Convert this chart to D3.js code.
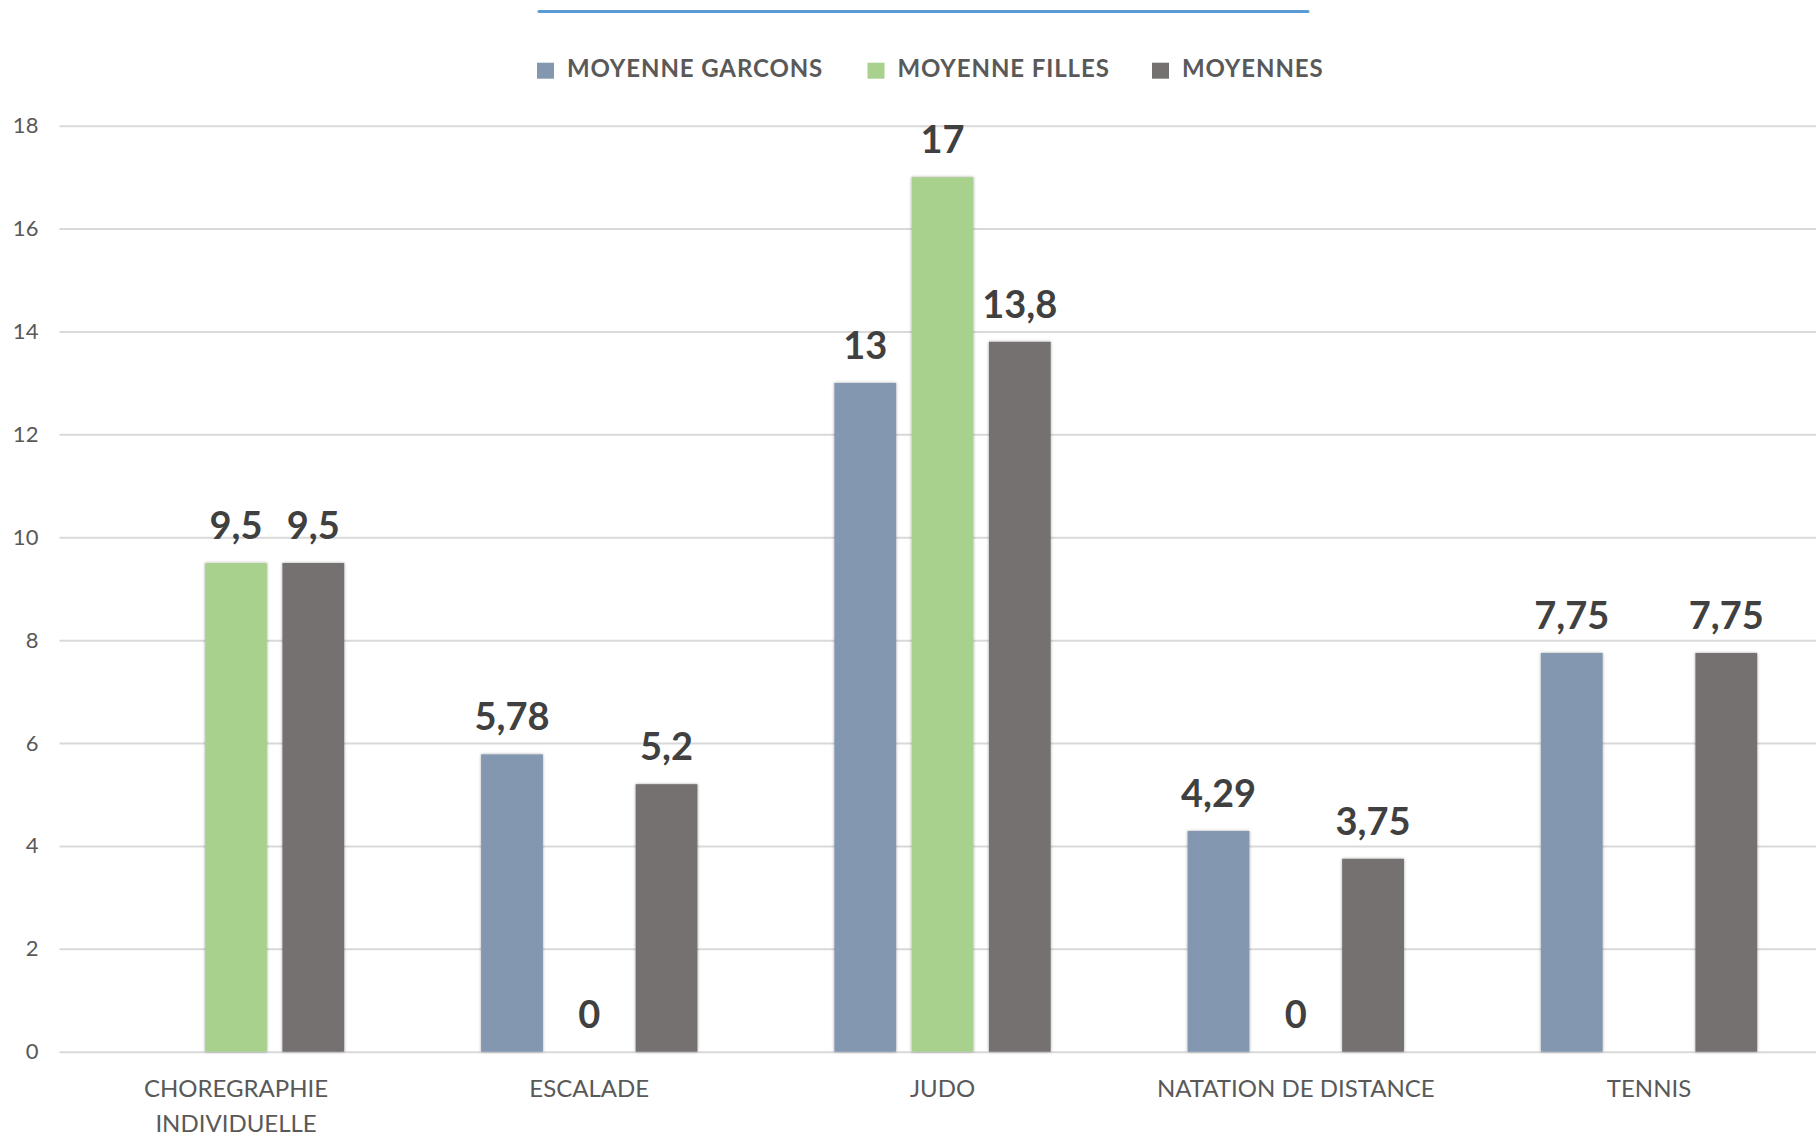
<!DOCTYPE html>
<html>
<head>
<meta charset="utf-8">
<script src="https://cdn.jsdelivr.net/npm/d3@7"></script>
<style>
	html, body { margin: 0; padding: 0; background: #fff; }
	svg { display: block; font-family: Lato, "Open Sans", sans-serif; }
</style>
</head>
<body>
<svg id="chart" width="1816" height="1136"></svg>
<script>
const categories = [
	["CHOREGRAPHIE", "INDIVIDUELLE"],
	["ESCALADE"],
	["JUDO"],
	["NATATION DE DISTANCE"],
	["TENNIS"],
];
const seriesNames = ["MOYENNE GARCONS", "MOYENNE FILLES", "MOYENNES"];
const garcons = [null, 5.78, 13, 4.29, 7.75];
const filles = [9.5, 0, 17, 0, null];
const moyennes = [9.5, 5.2, 13.8, 3.75, 7.75];
const yTicks = [0, 2, 4, 6, 8, 10, 12, 14, 16, 18];

const colors = ["#8497B0", "#A9D18E", "#767171"];
const seriesValues = [garcons, filles, moyennes];

const width = 1816,
	height = 1136;

const svg = d3.select("#chart");

const defs = svg.append("defs");
defs.append("filter")
	.attr("id", "shadow")
	.attr("x", "-20%").attr("y", "-5%")
	.attr("width", "140%").attr("height", "110%")
	.append("feDropShadow")
	.attr("dx", 0).attr("dy", 0)
	.attr("stdDeviation", 1.6)
	.attr("flood-color", "#000")
	.attr("flood-opacity", 0.35);

// scales
const x0 = d3.scaleBand()
	.domain(d3.range(categories.length))
	.range([59.4, 59.4 + 5 * 353.25])
	.paddingInner(0.3)
	.paddingOuter(0.15);

const x1 = d3.scaleBand()
	.domain(d3.range(seriesNames.length))
	.range([0, x0.bandwidth()])
	.padding(0.2);

const y = d3.scaleLinear().domain([0, 18]).range([1051.7, 125.7]);

// title underline (empty title)
svg.append("line")
	.attr("x1", 539).attr("x2", 1308)
	.attr("y1", 11.5).attr("y2", 11.5)
	.attr("stroke", "#5B9BD5")
	.attr("stroke-width", 3)
	.attr("stroke-linecap", "round");

// gridlines + y labels
const yAxis = d3.axisLeft(y)
	.tickValues(yTicks)
	.tickSize(-(x0.range()[1] - 59.4))
	.tickPadding(21)
	.tickFormat(d3.format("d"));

const gy = svg.append("g")
	.attr("transform", "translate(59.4,0)")
	.call(yAxis);
gy.select(".domain").remove();
gy.selectAll(".tick line")
	.attr("stroke", "#d9d9d9")
	.attr("stroke-width", 2);
gy.selectAll(".tick text")
	.attr("fill", "#595959")
	.attr("font-size", 22)
	.attr("font-family", "Lato, sans-serif");

// bars
const flat = [];
categories.forEach((c, i) => {
	seriesValues.forEach((vals, s) => {
		flat.push({ cat: i, s, v: vals[i] });
	});
});

const g_bars = svg.append("g");
g_bars.selectAll("rect")
	.data(flat.filter((d) => d.v !== null && d.v > 0))
	.join("rect")
	.attr("x", (d) => x0(d.cat) + x1(d.s))
	.attr("width", x1.bandwidth())
	.attr("y", (d) => y(d.v))
	.attr("height", (d) => y(0) - y(d.v))
	.attr("fill", (d) => colors[d.s])
	.attr("filter", "url(#shadow)");

// data labels
const fmt = (v) => String(v).replace(".", ",");
svg.append("g").selectAll("text")
	.data(flat.filter((d) => d.v !== null))
	.join("text")
	.attr("x", (d) => x0(d.cat) + x1(d.s) + x1.bandwidth() / 2)
	.attr("y", (d) => y(d.v) - 24)
	.attr("text-anchor", "middle")
	.attr("font-size", 38)
	.attr("font-weight", "bold")
	.attr("fill", "#404040")
	.text((d) => fmt(d.v));

// category labels
const g_cats = svg.append("g");
categories.forEach((lines, i) => {
	const t = g_cats.append("text")
		.attr("x", x0(i) + x0.bandwidth() / 2)
		.attr("y", 1096.7)
		.attr("text-anchor", "middle")
		.attr("font-size", 24)
		.attr("fill", "#595959");
	lines.forEach((l, k) => {
		t.append("tspan")
			.attr("x", x0(i) + x0.bandwidth() / 2)
			.attr("dy", k === 0 ? 0 : 35)
			.text(l);
	});
});

// legend
const legendX = [537, 867.5, 1152];
const legend = svg.append("g").selectAll("g")
	.data(seriesNames)
	.join("g")
	.attr("transform", (d, i) => `translate(${legendX[i]},0)`);
legend.append("rect")
	.attr("x", 0).attr("y", 62.7)
	.attr("width", 17).attr("height", 16)
	.attr("fill", (d, i) => colors[i]);
legend.append("text")
	.attr("x", 30).attr("y", 77)
	.attr("font-size", 24)
	.attr("font-weight", "bold")
	.attr("letter-spacing", 0.9)
	.attr("fill", "#595959")
	.text((d) => d);
</script>
</body>
</html>
